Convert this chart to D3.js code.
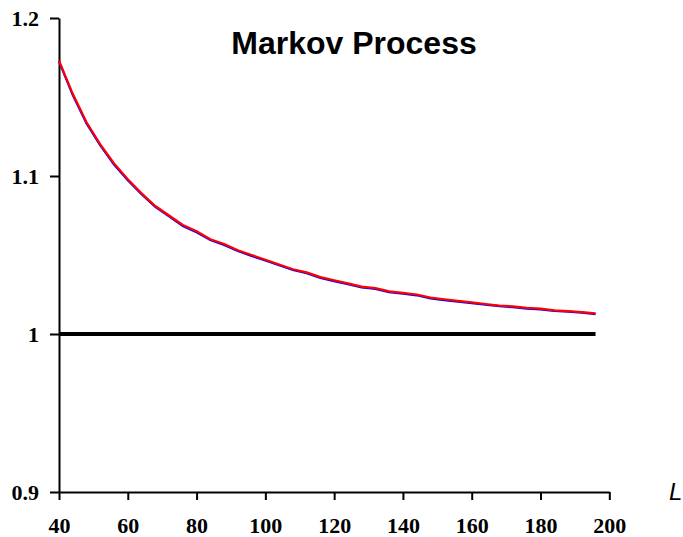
<!DOCTYPE html>
<html>
<head>
<meta charset="utf-8">
<script src="https://cdn.jsdelivr.net/npm/d3@7/dist/d3.min.js"></script>
<style>
  body { margin: 0; background: #fff; }
  svg { display: block; }
  .tick text { font-family: "Liberation Serif", "Times New Roman", serif; font-weight: bold; font-size: 22px; fill: #000; }
</style>
</head>
<body>
<script>
// ---- data ----
var L = [40, 44, 48, 52, 56, 60, 64, 68, 72, 76, 80, 84, 88, 92, 96, 100, 104, 108, 112, 116,
         120, 124, 128, 132, 136, 140, 144, 148, 152, 156, 160, 164, 168, 172, 176, 180, 184, 188, 192, 196];
var redVals = [1.173, 1.152, 1.134, 1.120, 1.108, 1.098, 1.089, 1.081, 1.075, 1.069,
               1.065, 1.060, 1.057, 1.053, 1.050, 1.047, 1.044, 1.041, 1.039, 1.036,
               1.034, 1.032, 1.030, 1.029, 1.027, 1.026, 1.025, 1.023, 1.022, 1.021,
               1.020, 1.019, 1.018, 1.0175, 1.0165, 1.016, 1.015, 1.0145, 1.0138, 1.013];
var blueVals = [1.1725, 1.1512, 1.1332, 1.1193, 1.1072, 1.0973, 1.0884, 1.0804, 1.0744, 1.0684,
                1.0644, 1.0595, 1.0564, 1.0525, 1.0494, 1.0465, 1.0435, 1.0405, 1.0385, 1.0355,
                1.0335, 1.0315, 1.0295, 1.0285, 1.0265, 1.0255, 1.0245, 1.0226, 1.0214, 1.0205,
                1.0195, 1.0185, 1.0176, 1.0170, 1.0161, 1.0156, 1.0146, 1.0141, 1.0135, 1.0126];
var refL = [40, 196];
var refVals = [1, 1];
var xTicks = [40, 60, 80, 100, 120, 140, 160, 180, 200];
var yTicks = [0.9, 1.0, 1.1, 1.2];
var yTickLabels = ["0.9", "1", "1.1", "1.2"];

var width = 683, height = 537;

var svg = d3.select("body").append("svg")
  .attr("width", width)
  .attr("height", height);

var x = d3.scaleLinear().domain([40, 200]).range([59, 609.3]);
var y = d3.scaleLinear().domain([0.9, 1.2]).range([492, 18]);

// ---- axes ----
var xAxis = svg.append("g")
  .attr("transform", "translate(0," + y(0.9) + ")")
  .call(d3.axisBottom(x).tickValues(xTicks).tickSize(8).tickPadding(17).tickSizeOuter(0));

var yAxis = svg.append("g")
  .attr("transform", "translate(" + x(40) + ",0)")
  .call(d3.axisLeft(y).tickValues(yTicks).tickSize(9).tickPadding(11).tickSizeOuter(0)
    .tickFormat(function(d, i) { return yTickLabels[i]; }));

[xAxis, yAxis].forEach(function(a) {
  a.select(".domain").attr("stroke", "#000").attr("stroke-width", 2);
  a.selectAll(".tick line").attr("stroke", "#000").attr("stroke-width", 2);
});
yAxis.selectAll(".tick text").attr("dy", "0.35em");

// ---- lines ----
var line = d3.line()
  .x(function(d) { return x(d[0]); })
  .y(function(d) { return y(d[1]); });

svg.append("path")
  .datum(refL.map(function(l, i) { return [l, refVals[i]]; }))
  .attr("d", line)
  .attr("fill", "none")
  .attr("stroke", "#000")
  .attr("stroke-width", 4);

svg.append("path")
  .datum(L.map(function(l, i) { return [l, blueVals[i]]; }))
  .attr("d", line)
  .attr("fill", "none")
  .attr("stroke", "#0000ff")
  .attr("stroke-width", 2.2);

svg.append("path")
  .datum(L.map(function(l, i) { return [l, redVals[i]]; }))
  .attr("d", line)
  .attr("fill", "none")
  .attr("stroke", "#ff0000")
  .attr("stroke-width", 2.2);

// ---- text ----
svg.append("text")
  .attr("x", 354)
  .attr("y", 54)
  .attr("text-anchor", "middle")
  .style("font-family", "'Liberation Sans', Arial, sans-serif")
  .style("font-weight", "bold")
  .style("font-size", "32px")
  .text("Markov Process");

svg.append("text")
  .attr("x", 669)
  .attr("y", 500)
  .style("font-family", "'Liberation Sans', Arial, sans-serif")
  .style("font-style", "italic")
  .style("font-size", "24px")
  .text("L");
</script>
</body>
</html>
